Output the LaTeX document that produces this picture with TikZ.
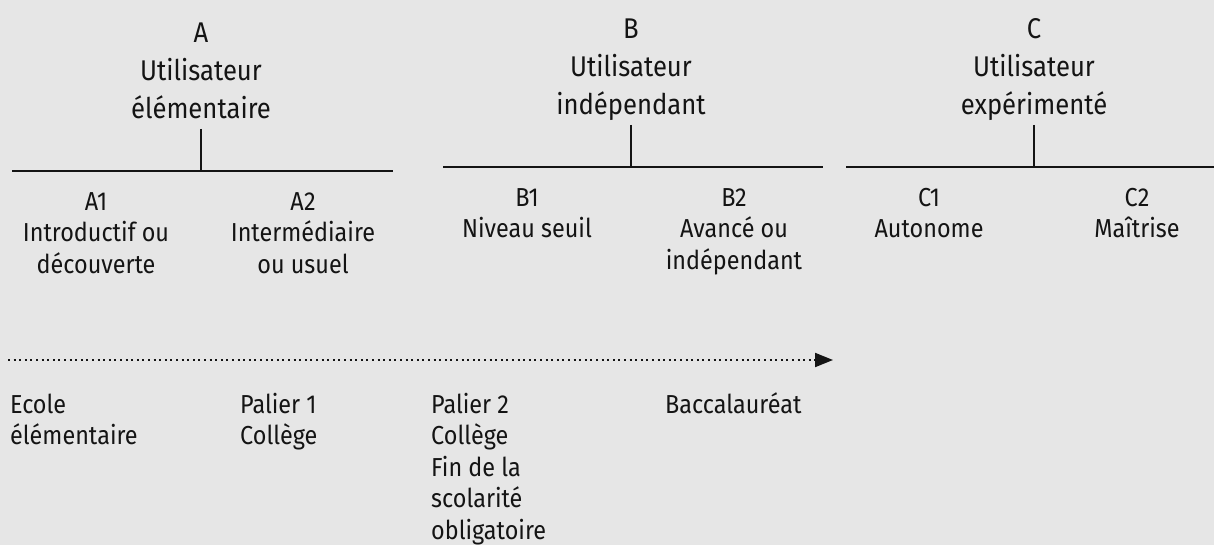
\documentclass[tikz,border=0pt]{standalone}
\usepackage{fontspec}
\setmainfont{Fira Sans}
\newfontfamily\headfont[FakeStretch=0.9]{Fira Sans}
\newfontfamily\bodyfont[FakeStretch=0.9]{Fira Sans}
\usetikzlibrary{arrows.meta}
\definecolor{bg}{HTML}{E6E6E6}
\definecolor{ink}{HTML}{141414}
\begin{document}
\begin{tikzpicture}[x=1pt,y=-1pt,
  head/.style={anchor=north,inner sep=0pt,align=center,text=ink,font=\headfont\fontsize{28.5}{38}\selectfont},
  lvl/.style={anchor=north,inner sep=0pt,align=center,text=ink,font=\bodyfont\fontsize{26}{31.5}\selectfont},
  stage/.style={anchor=north west,inner sep=0pt,align=left,text=ink,font=\bodyfont\fontsize{26}{31.5}\selectfont},
  bar/.style={draw=ink,line width=2.4pt},
  tick/.style={draw=ink,line width=1.3pt},
  timeline/.style={draw=ink,line width=2pt,dash pattern=on 2pt off 3.6pt,-{Triangle[length=18pt,width=14pt]}}]
\fill[bg] (0,0) rectangle (1214,545);
\useasboundingbox (0,0) rectangle (1214,545);
\newcommand{\fs}{\rule{0pt}{24pt}}
% headers
\node[head] (hA) at (201,42-24) {\fs A\\Utilisateur\\élémentaire};
\node[head] (hB) at (631,38-24) {\fs B\\Utilisateur\\indépendant};
\node[head] (hC) at (1034,38-24) {\fs C\\Utilisateur\\expérimenté};
% bars
\coordinate (aL) at (12,171); \coordinate (aR) at (393,171); \coordinate (aM) at (201,171); \coordinate (aT) at (201,129);
\coordinate (bL) at (443,167); \coordinate (bR) at (823,167); \coordinate (bM) at (631,167); \coordinate (bT) at (631,125);
\coordinate (cL) at (846,167); \coordinate (cR) at (1214,167); \coordinate (cM) at (1034,167); \coordinate (cT) at (1034,125);
\draw[bar] (aL) -- (aR);
\draw[bar] (bL) -- (bR);
\draw[bar] (cL) -- (cR);
\draw[tick] (aT) -- (aM);
\draw[tick] (bT) -- (bM);
\draw[tick] (cT) -- (cM);
% levels
\node[lvl] (a1) at (96,210-24) {\fs A1\\Introductif ou\\découverte};
\node[lvl] (a2) at (303,210-24) {\fs A2\\Intermédiaire\\ou usuel};
\node[lvl] (b1) at (527,206-24) {\fs B1\\Niveau seuil};
\node[lvl] (b2) at (734,206-24) {\fs B2\\Avancé ou\\indépendant};
\node[lvl] (c1) at (929,206-24) {\fs C1\\Autonome};
\node[lvl] (c2) at (1137,206-24) {\fs C2\\Maîtrise};
% timeline
\coordinate (tS) at (8,360); \coordinate (tE) at (833,360);
\draw[timeline] (tS) -- (tE);
% stages
\node[stage] (s1) at (10,413-24) {\fs Ecole\\élémentaire};
\node[stage] (s2) at (240,413-24) {\fs Palier 1\\Collège};
\node[stage] (s3) at (431,413-24) {\fs Palier 2\\Collège\\Fin de la\\scolarité\\obligatoire};
\node[stage] (s4) at (665,413-24) {\fs Baccalauréat};
\end{tikzpicture}
\end{document}
